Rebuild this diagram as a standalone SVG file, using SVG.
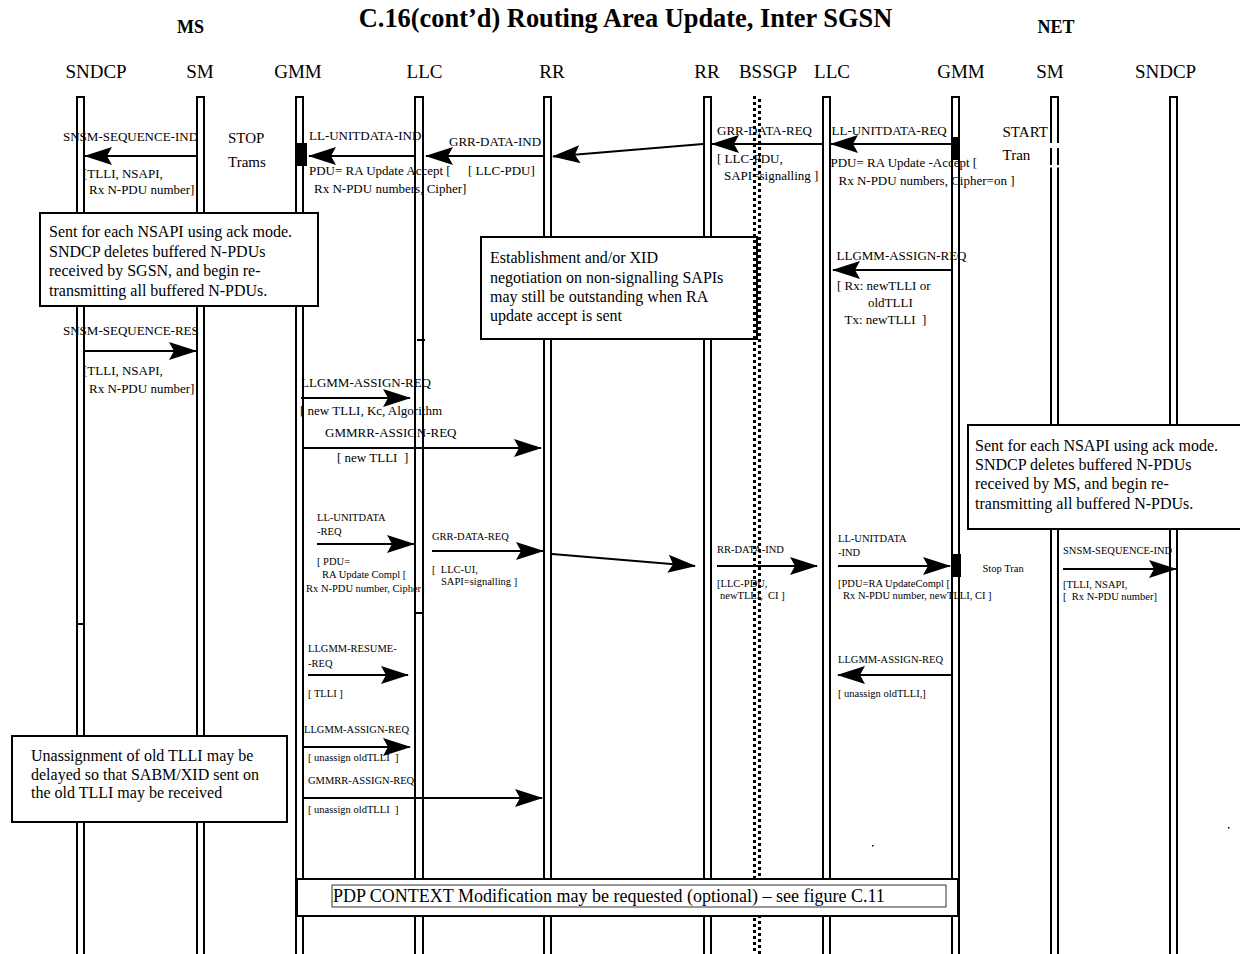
<svg xmlns="http://www.w3.org/2000/svg" width="1240" height="954" viewBox="0 0 1240 954">
<style>
text{font-family:"Liberation Serif","Times New Roman",serif;fill:#000;white-space:pre}
.hd{font-size:19px}
.ttl{font-size:26.4px;font-weight:bold}
.grp{font-size:18px;font-weight:bold}
.m13{font-size:13px}
.m10{font-size:10.5px}
.st{font-size:15px}
.bt{font-size:16px}
.ll{fill:none;stroke:#000;stroke-width:2}
.bx{fill:#fff;stroke:#000;stroke-width:2}
.ar{stroke:#000;stroke-width:2;fill:none;marker-end:url(#ah)}
.act{fill:#000}
.tk{stroke:#000;stroke-width:2}
</style>
<defs>
<marker id="ah" markerUnits="userSpaceOnUse" viewBox="0 0 28 18" refX="27" refY="9" markerWidth="28" markerHeight="18" orient="auto">
<path d="M0,0 L28,9 L0,18 L5,9 z" fill="#000"/>
</marker>
</defs>
<rect width="1240" height="954" fill="#fff"/>
<text class="ttl" x="625.5" y="27" text-anchor="middle">C.16(cont’d) Routing Area Update, Inter SGSN</text>
<text class="grp" x="190.5" y="33" text-anchor="middle">MS</text>
<text class="grp" x="1056" y="33" text-anchor="middle">NET</text>

<g id="labels">
<text class="m13" x="63" y="141">SNSM-SEQUENCE-IND</text>
<text class="m13" x="83" y="178">[TLLI, NSAPI,</text>
<text class="m13" x="89" y="193.5">Rx N-PDU number]</text>
<text class="st" x="228" y="143">STOP</text>
<text class="st" x="228" y="166.5">Trams</text>
<text class="m13" x="309" y="140">LL-UNITDATA-IND</text>
<text class="m13" x="309" y="175">PDU= RA Update Accept [</text>
<text class="m13" x="314" y="192.5">Rx N-PDU numbers, Cipher]</text>
<text class="m13" x="449" y="145.5">GRR-DATA-IND</text>
<text class="m13" x="468" y="175">[ LLC-PDU]</text>
<text class="m13" x="717" y="135">GRR-DATA-REQ</text>
<text class="m13" x="831.5" y="135">LL-UNITDATA-REQ</text>
<text class="m13" x="717" y="163">[ LLC-PDU,</text>
<text class="m13" x="724" y="180">SAPI=signalling ]</text>
<text class="m13" x="830.5" y="167">PDU= RA Update -Accept [</text>
<text class="m13" x="838.5" y="185">Rx N-PDU numbers, Cipher=on ]</text>
<text class="m13" x="836.5" y="260">LLGMM-ASSIGN-REQ</text>
<text class="m13" x="837" y="290">[ Rx: newTLLI or</text>
<text class="m13" x="868" y="307">oldTLLI</text>
<text class="m13" x="844.5" y="324">Tx: newTLLI  ]</text>
<text class="m13" x="63" y="335">SNSM-SEQUENCE-RES</text>
<text class="m13" x="83" y="375">[TLLI, NSAPI,</text>
<text class="m13" x="89" y="392.5">Rx N-PDU number]</text>
<text class="m13" x="301" y="387">LLGMM-ASSIGN-REQ</text>
<text class="m13" x="300" y="415">[ new TLLI, Kc, Algorithm</text>
<text class="m13" x="325" y="437">GMMRR-ASSIGN-REQ</text>
<text class="m13" x="337" y="461.5">[ new TLLI  ]</text>
<text class="m10" x="317" y="521">LL-UNITDATA</text>
<text class="m10" x="317" y="534.5">-REQ</text>
<text class="m10" x="317" y="565">[ PDU=</text>
<text class="m10" x="322" y="578">RA Update Compl [</text>
<text class="m10" x="306" y="592">Rx N-PDU number, Cipher]</text>
<text class="m10" x="432" y="539.5">GRR-DATA-REQ</text>
<text class="m10" x="432" y="573">[  LLC-UI,</text>
<text class="m10" x="441" y="585">SAPI=signalling ]</text>
<text class="m10" x="717" y="553">RR-DATA-IND</text>
<text class="m10" x="717" y="587">[LLC-PDU,</text>
<text class="m10" x="720" y="599">newTLLI,  CI ]</text>
<text class="m10" x="838" y="542">LL-UNITDATA</text>
<text class="m10" x="838" y="556">-IND</text>
<text class="m10" x="838" y="587">[PDU=RA UpdateCompl [</text>
<text class="m10" x="843" y="599">Rx N-PDU number, newTLLI, CI ]</text>
<text class="m10" x="982.5" y="572">Stop Tran</text>
<text class="m10" x="1063" y="553.5">SNSM-SEQUENCE-IND</text>
<text class="m10" x="1063" y="588">[TLLI, NSAPI,</text>
<text class="m10" x="1063" y="600">[  Rx N-PDU number]</text>
<text class="m10" x="308" y="652">LLGMM-RESUME-</text>
<text class="m10" x="308" y="666.5">-REQ</text>
<text class="m10" x="308" y="697">[ TLLI ]</text>
<text class="m10" x="838" y="663">LLGMM-ASSIGN-REQ</text>
<text class="m10" x="838" y="697">[ unassign oldTLLI,]</text>
<text class="m10" x="304" y="733">LLGMM-ASSIGN-REQ</text>
<text class="m10" x="308" y="761">[ unassign oldTLLI  ]</text>
<text class="m10" x="308" y="784">GMMRR-ASSIGN-REQ</text>
<text class="m10" x="308" y="813">[ unassign oldTLLI  ]</text>
</g>

<g id="ms-sndcp"><text class="hd" x="96" y="78" text-anchor="middle">SNDCP</text><rect class="ll" x="77" y="97" width="7" height="870"/></g>
<g id="ms-sm"><text class="hd" x="200" y="78" text-anchor="middle">SM</text><rect class="ll" x="197" y="97" width="7" height="870"/></g>
<g id="ms-gmm"><text class="hd" x="298" y="78" text-anchor="middle">GMM</text><rect class="ll" x="296" y="97" width="7" height="870"/></g>
<g id="ms-llc"><text class="hd" x="424.5" y="78" text-anchor="middle">LLC</text><rect class="ll" x="415" y="97" width="8" height="870"/></g>
<g id="ms-rr"><text class="hd" x="552" y="78" text-anchor="middle">RR</text><rect class="ll" x="544" y="97" width="7" height="870"/></g>
<g id="net-rr"><text class="hd" x="707" y="78" text-anchor="middle">RR</text><rect class="ll" x="704" y="97" width="7" height="870"/></g>
<g id="net-llc"><text class="hd" x="832" y="78" text-anchor="middle">LLC</text><rect class="ll" x="823" y="97" width="7" height="870"/></g>
<g id="net-gmm"><text class="hd" x="961" y="78" text-anchor="middle">GMM</text><rect class="ll" x="952" y="97" width="7" height="870"/></g>
<g id="net-sm"><text class="hd" x="1050" y="78" text-anchor="middle">SM</text><rect class="ll" x="1051" y="97" width="7" height="870"/>
<rect x="1048" y="143" width="13" height="5" fill="#fff"/><rect x="1048" y="165" width="13" height="2.5" fill="#fff"/></g>
<g id="net-sndcp"><text class="hd" x="1165.5" y="78" text-anchor="middle">SNDCP</text><rect class="ll" x="1170" y="97" width="7" height="870"/></g>

<g id="ticks">
<line class="tk" x1="417" y1="340" x2="425" y2="340"/>
<line class="tk" x1="415" y1="613" x2="423" y2="613"/>
<line class="tk" x1="77" y1="624" x2="85" y2="624"/>
</g>

<text class="st" x="1002.5" y="136.5">START</text>
<text class="st" x="1002.5" y="159.5">Tran</text>

<g id="activations">
<rect class="act" x="297" y="143" width="10" height="23"/>
<rect class="act" x="951" y="137" width="9" height="23"/>
<rect class="act" x="952" y="554" width="9" height="23"/>
</g>

<g id="note1"><rect class="bx" x="40" y="213" width="278" height="93"/>
<text class="bt" x="49" y="237">Sent for each NSAPI using ack mode.</text>
<text class="bt" x="49" y="256.5">SNDCP deletes buffered N-PDUs</text>
<text class="bt" x="49" y="276">received by SGSN, and begin re-</text>
<text class="bt" x="49" y="295.5">transmitting all buffered N-PDUs.</text></g>
<g id="note2"><rect class="bx" x="481" y="237" width="276" height="102"/>
<text class="bt" x="490" y="263">Establishment and/or XID</text>
<text class="bt" x="490" y="283">negotiation on non-signalling SAPIs</text>
<text class="bt" x="490" y="302">may still be outstanding when RA</text>
<text class="bt" x="490" y="321">update accept is sent</text></g>

<g id="bssgp">
<text class="hd" x="768" y="78" text-anchor="middle">BSSGP</text>
<line x1="754.5" y1="96" x2="754.5" y2="954" stroke="#000" stroke-width="3" stroke-dasharray="3 3"/>
<line x1="759.5" y1="96" x2="759.5" y2="954" stroke="#000" stroke-width="3" stroke-dasharray="3 3" stroke-dashoffset="3"/>
</g>

<g id="note3"><rect class="bx" x="968" y="425" width="276" height="104"/>
<text class="bt" x="975" y="451">Sent for each NSAPI using ack mode.</text>
<text class="bt" x="975" y="469.5">SNDCP deletes buffered N-PDUs</text>
<text class="bt" x="975" y="489">received by MS, and begin re-</text>
<text class="bt" x="975" y="509">transmitting all buffered N-PDUs.</text></g>
<g id="note4"><rect class="bx" x="12" y="736" width="275" height="86"/>
<text class="bt" x="31" y="761">Unassignment of old TLLI may be</text>
<text class="bt" x="31" y="779.5">delayed so that SABM/XID sent on</text>
<text class="bt" x="31" y="798">the old TLLI may be received</text></g>
<g id="note5"><rect class="bx" x="297" y="879" width="661" height="37"/>
<rect x="332" y="885" width="614" height="22" fill="none" stroke="#333" stroke-width="1"/>
<text x="333" y="902" style="font-size:18px">PDP CONTEXT Modification may be requested (optional) – see figure C.11</text></g>

<g id="connectors">
<line class="ar" x1="196" y1="156" x2="85" y2="156"/>
<line class="ar" x1="414" y1="156" x2="309" y2="156"/>
<line class="ar" x1="543" y1="156" x2="426" y2="156"/>
<line class="ar" x1="703" y1="144" x2="553" y2="156.5"/>
<line class="ar" x1="822" y1="144" x2="712" y2="144"/>
<line class="ar" x1="951" y1="144" x2="831" y2="144"/>
<line class="ar" x1="951" y1="270" x2="833" y2="270"/>
<line class="ar" x1="85" y1="351" x2="196" y2="351"/>
<line class="ar" x1="301" y1="398" x2="410" y2="398"/>
<line class="ar" x1="303" y1="448" x2="541" y2="448"/>
<line class="ar" x1="317" y1="544" x2="414" y2="544"/>
<line class="ar" x1="432" y1="551" x2="543" y2="551"/>
<line class="ar" x1="552" y1="554" x2="695" y2="566"/>
<line class="ar" x1="717" y1="566" x2="817" y2="566"/>
<line class="ar" x1="838" y1="566" x2="950" y2="566"/>
<line class="ar" x1="1063" y1="569" x2="1176" y2="569"/>
<line class="ar" x1="308" y1="675" x2="408" y2="675"/>
<line class="ar" x1="951" y1="675" x2="838" y2="675"/>
<line class="ar" x1="303" y1="747" x2="410" y2="747"/>
<line class="ar" x1="303" y1="798" x2="542" y2="798"/>
</g>

<rect x="872" y="845" width="1.5" height="1.5" fill="#000"/>
<rect x="1228" y="827" width="1.5" height="1.5" fill="#000"/>
</svg>
